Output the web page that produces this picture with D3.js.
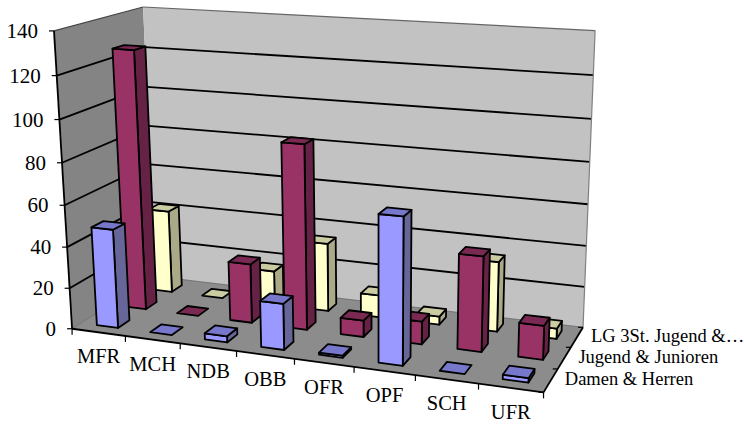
<!DOCTYPE html>
<html>
<head>
<meta charset="utf-8">
<script src="https://cdnjs.cloudflare.com/ajax/libs/d3/7.8.5/d3.min.js"></script>
<style>
html, body { margin: 0; padding: 0; background: #fff; }
text { font-family: "Liberation Serif", serif; fill: #000; }
</style>
</head>
<body>
<div id="chart"></div>
<script>
const categories = ["MFR", "MCH", "NDB", "OBB", "OFR", "OPF", "SCH", "UFR"];
const seriesNames = ["Damen & Herren", "Jugend & Junioren", "LG 3St. Jugend &…"];
const damen = [48, 0, 3, 22, 1, 68, 0, 2];
const jugend = [127, 0, 29, 89, 8, 11, 45, 16];
const lg = [42, 0, 17, 34, 11, 4, 34, 5];
const valueTicks = [0, 20, 40, 60, 80, 100, 120, 140];

const seriesValues = [damen, jugend, lg];
const faces = [
    { front: "#9999ff", side: "#666699", top: "#7777cc" },
    { front: "#993366", side: "#662244", top: "#7a2952" },
    { front: "#ffffcc", side: "#aaaa88", top: "#ccccA3" }
];

var max = { x: 744, y: 424 };
var svg = d3.select("#chart").append("svg")
    .attr("width", max.x)
    .attr("height", max.y)
    .style("display", "block");

// scales work in a unit box, camera below turns that into pixels
var xScale = d3.scaleBand().domain(categories).range([0, 1]).paddingInner(0.6).paddingOuter(0.3);
var zScale = d3.scaleBand().domain(d3.range(3)).range([0, 1]).paddingInner(0.6).paddingOuter(0.3);
var yScale = d3.scaleLinear().domain([0, 140]).range([0, 1]);

// corners of the plot box as seen in the picture: [x, z, y] -> [px, py]
var calib = [
    [[0, 0, 0], [71, 329]],
    [[1, 0, 0], [543.7, 392]],
    [[1, 1, 0], [582.7, 327.7]],
    [[0, 1, 0], [156, 276]],
    [[0, 0, 1], [55, 31]],
    [[0, 1, 1], [142, 7]],
    [[1, 1, 1], [595.3, 30.5]]
];

// least squares fit of a 3x4 camera matrix
function fitCamera(pts) {
    var rows = [], rhs = [];
    pts.forEach(function(p) {
        var a = p[0], b = p[1];
        rows.push([a[0], a[1], a[2], 1, 0, 0, 0, 0, -b[0] * a[0], -b[0] * a[1], -b[0] * a[2]]);
        rhs.push(b[0]);
        rows.push([0, 0, 0, 0, a[0], a[1], a[2], 1, -b[1] * a[0], -b[1] * a[1], -b[1] * a[2]]);
        rhs.push(b[1]);
    });
    var n = 11, m = [];
    for (var i = 0; i < n; i++) {
        m.push(new Array(n + 1).fill(0));
        for (var j = 0; j < n; j++) m[i][j] = d3.sum(rows, function(r) { return r[i] * r[j]; });
        m[i][n] = d3.sum(rows, function(r, k) { return r[i] * rhs[k]; });
    }
    for (var c = 0; c < n; c++) {
        var piv = c;
        for (var r = c + 1; r < n; r++) if (Math.abs(m[r][c]) > Math.abs(m[piv][c])) piv = r;
        var tmp = m[c]; m[c] = m[piv]; m[piv] = tmp;
        for (var r2 = 0; r2 < n; r2++) {
            if (r2 === c) continue;
            var f = m[r2][c] / m[c][c];
            for (var q = c; q <= n; q++) m[r2][q] -= f * m[c][q];
        }
    }
    return m.map(function(row, i) { return row[n] / row[i]; });
}
var cam = fitCamera(calib);

function project(x, z, y) {
    var w = cam[8] * x + cam[9] * z + cam[10] * y + 1;
    return [
        (cam[0] * x + cam[1] * z + cam[2] * y + cam[3]) / w,
        (cam[4] * x + cam[5] * z + cam[6] * y + cam[7]) / w
    ];
}

var line = d3.line();
function poly(g, pts, fill, stroke, sw) {
    return g.append("path")
        .attr("d", line(pts) + "Z")
        .attr("fill", fill)
        .attr("stroke", stroke || "none")
        .attr("stroke-width", sw || 0)
        .attr("stroke-linejoin", "round");
}
function seg(g, a, b, stroke, sw) {
    return g.append("path")
        .attr("d", line([a, b]))
        .attr("stroke", stroke)
        .attr("stroke-width", sw)
        .attr("fill", "none");
}

// walls and floor
var walls = svg.append("g");
poly(walls, [project(0, 0, 0), project(0, 1, 0), project(0, 1, 1), project(0, 0, 1)], "#848484");
poly(walls, [project(0, 1, 0), project(1, 1, 0), project(1, 1, 1), project(0, 1, 1)], "#c2c2c2");
poly(walls, [project(0, 0, 0), project(1, 0, 0), project(1, 1, 0), project(0, 1, 0)], "#8c8c8c");

// grid lines on both walls
valueTicks.forEach(function(v) {
    var t = yScale(v);
    if (v > 0 && v < 140) {
        seg(walls, project(0, 0, t), project(0, 1, t), "#000", 1.8);
        seg(walls, project(0, 1, t), project(1, 1, t), "#000", 1.8);
    }
});
seg(walls, project(0, 0, 1), project(0, 1, 1), "#444", 1.2);
seg(walls, project(0, 1, 1), project(1, 1, 1), "#666", 1.2);
seg(walls, project(1, 1, 0), project(1, 1, 1), "#808080", 1.2);
seg(walls, project(0, 1, 0), project(1, 1, 0), "#666", 0.8);
seg(walls, project(0, 0, 0), project(0, 1, 0), "#666", 0.8);

// axes
var axes = svg.append("g");
seg(axes, project(0, 0, 0), project(0, 0, 1), "#000", 1.8);
seg(axes, project(0, 0, 0), project(1, 0, 0), "#000", 1.8);
seg(axes, project(1, 0, 0), project(1, 1, 0), "#000", 1.8);

valueTicks.forEach(function(v) {
    var p = project(0, 0, yScale(v));
    seg(axes, [p[0] - 5, p[1]], p, "#000", 1.2);
    axes.append("text")
        .attr("x", p[0] - 16)
        .attr("y", p[1] + 7)
        .attr("text-anchor", "end")
        .attr("font-size", 21)
        .text(v);
});

var step = xScale.step();
d3.range(categories.length + 1).forEach(function(i) {
    var p = project(i * step, 0, 0);
    seg(axes, p, [p[0], p[1] + 6], "#000", 1.2);
});
categories.forEach(function(c, i) {
    var p = project((i + 0.5) * step, 0, 0);
    axes.append("text")
        .attr("x", p[0])
        .attr("y", p[1] + 31)
        .attr("text-anchor", "middle")
        .attr("font-size", 20.5)
        .text(c);
});

var zStep = zScale.step();
d3.range(seriesNames.length + 1).forEach(function(i) {
    var p = project(1, i * zStep, 0);
    seg(axes, p, [p[0] - 5, p[1]], "#000", 1.2);
});
seriesNames.forEach(function(s, i) {
    var p = project(1, (i + 0.5) * zStep, 0);
    axes.append("text")
        .attr("x", p[0] + 14)
        .attr("y", p[1] + 5)
        .attr("font-size", 18.5)
        .text(s);
});

// bars, back row first so the front ones overlap
var bars = svg.append("g");
[2, 1, 0].forEach(function(s) {
    var colors = faces[s];
    seriesValues[s].forEach(function(v, i) {
        var x0 = xScale(categories[i]), x1 = x0 + xScale.bandwidth();
        var z0 = zScale(s), z1 = z0 + zScale.bandwidth();
        var t = yScale(v);
        var g = bars.append("g");
        if (v > 0) {
            poly(g, [project(x1, z0, 0), project(x1, z1, 0), project(x1, z1, t), project(x1, z0, t)], colors.side, "#000", 1.8);
            poly(g, [project(x0, z0, 0), project(x1, z0, 0), project(x1, z0, t), project(x0, z0, t)], colors.front, "#000", 1.8);
        }
        poly(g, [project(x0, z0, t), project(x1, z0, t), project(x1, z1, t), project(x0, z1, t)], colors.top, "#000", 1.8);
    });
});
</script>
</body>
</html>
